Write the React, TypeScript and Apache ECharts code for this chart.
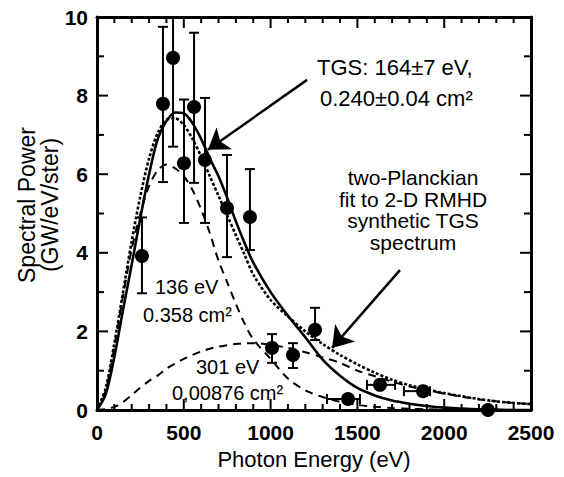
import React, { useEffect, useRef } from "react";
import * as echarts from "echarts";

const energy = [0, 50, 100, 150, 200, 250, 300, 350, 400, 450, 500, 550, 600, 650, 700, 750, 800, 850, 900, 1000, 1100, 1200, 1300, 1400, 1500, 1600, 1700, 1800, 1900, 2000, 2100, 2200, 2300, 2400, 2500];
// TGS single-Planckian fit (solid)
const tgsFit = [0, 0.4, 1.35, 2.55, 3.7, 4.9, 6.0, 6.9, 7.35, 7.57, 7.55, 7.3, 6.9, 6.4, 5.95, 5.4, 4.8, 4.25, 3.75, 3.0, 2.4, 1.85, 1.28, 0.87, 0.56, 0.37, 0.24, 0.16, 0.1, 0.06, 0.04, 0.02, 0.01, 0.0, 0.0];
// two-Planckian fit to synthetic spectrum (dotted)
const twoPlanckSum = [0, 0.55, 1.7, 3.0, 4.3, 5.45, 6.4, 7.05, 7.38, 7.42, 7.25, 6.9, 6.45, 5.95, 5.45, 4.95, 4.45, 3.95, 3.45, 2.8, 2.38, 2.0, 1.68, 1.4, 1.16, 0.95, 0.77, 0.63, 0.52, 0.43, 0.35, 0.28, 0.22, 0.18, 0.15];
// 136 eV component (dashed)
const comp136 = [0, 0.5, 1.6, 2.9, 4.1, 5.0, 5.7, 6.1, 6.25, 6.15, 5.95, 5.6, 5.1, 4.5, 3.8, 3.25, 2.7, 2.2, 1.8, 1.3, 0.8, 0.5, 0.33, 0.21, 0.13, 0.08, 0.05, 0.03, 0.02, 0.01, 0.0, 0.0, 0.0, 0.0, 0.0];
// 301 eV component (dashed)
const comp301 = [0, 0.02, 0.08, 0.2, 0.38, 0.57, 0.74, 0.88, 1.05, 1.18, 1.3, 1.4, 1.49, 1.56, 1.61, 1.65, 1.68, 1.7, 1.7, 1.66, 1.58, 1.47, 1.34, 1.2, 1.0, 0.86, 0.72, 0.6, 0.5, 0.42, 0.34, 0.27, 0.22, 0.18, 0.15];

// Measured points with vertical error bars
const vPointE = [259, 380, 438, 501, 559, 622, 749, 881, 1008, 1129, 1256];
const vPointP = [3.92, 7.79, 8.96, 6.28, 7.71, 6.36, 5.14, 4.91, 1.58, 1.4, 2.04];
const vErrLow = [2.97, 5.8, 6.7, 4.76, 5.78, 4.76, 3.89, 4.07, 1.2, 1.07, 1.78];
const vErrHigh = [4.9, 9.75, 10, 7.9, 9.6, 7.94, 6.49, 6.13, 1.93, 1.7, 2.6];
// Measured points with horizontal error bars
const hPointE = [1446, 1630, 1878];
const hPointP = [0.28, 0.64, 0.48];
const hErrLow = [1325, 1555, 1768];
const hErrHigh = [1515, 1717, 1918];
// Point without error bar
const lonePointE = [2252];
const lonePointP = [0.0];

// Axis ticks
const xTicks = [0, 500, 1000, 1500, 2000, 2500];
const xMinorTicks = [100, 200, 300, 400, 600, 700, 800, 900, 1100, 1200, 1300, 1400, 1600, 1700, 1800, 1900, 2100, 2200, 2300, 2400];
const yTicks = [0, 2, 4, 6, 8, 10];
const yMinorTicks = [1, 3, 5, 7, 9];

const FONT = "Liberation Sans, Arial, Helvetica, sans-serif";

export default function App() {
  const ref = useRef<HTMLDivElement>(null);

  useEffect(() => {
    if (!ref.current) return;
    const chart = echarts.init(ref.current, null, { renderer: "svg" });

    const pair = (ys: number[]) => energy.map((e, i) => [e, ys[i]]);
    const black = "#000";
    const xMin = xTicks[0];
    const xMax = xTicks[xTicks.length - 1];
    const yMin = yTicks[0];
    const yMax = yTicks[yTicks.length - 1];

    const axisCommon = (isX: boolean) => ({
      type: "value" as const,
      min: isX ? xMin : yMin,
      max: isX ? xMax : yMax,
      interval: isX ? xTicks[1] - xTicks[0] : yTicks[1] - yTicks[0],
      axisLine: { show: true, onZero: false, lineStyle: { color: black, width: 3 } },
      axisTick: { show: false },
      minorTick: { show: false },
      splitLine: { show: false },
      minorSplitLine: { show: false },
    });

    const lineSeries = (name: string, ys: number[], type: any, width: number) => ({
      name,
      type: "line",
      data: pair(ys),
      symbol: "none",
      smooth: 0.3,
      lineStyle: { color: black, width, type },
      z: 2,
    });

    const capStyle = { stroke: black, lineWidth: 2 };
    const tickLabel = { color: black, fontSize: 21, fontWeight: "bold", fontFamily: FONT };

    const texts: any[] = [
      {
        type: "text",
        x: 38,
        y: 205,
        rotation: Math.PI / 2,
        style: {
          text: "Spectral Power\n(GW/eV/ster)",
          fontSize: 23,
          lineHeight: 23,
          fontFamily: FONT,
          fill: black,
          align: "center",
          verticalAlign: "middle",
        },
      },
      {
        type: "text",
        x: 317,
        y: 67,
        style: { text: "TGS: 164±7 eV,", fontSize: 22, fontFamily: FONT, fill: black, align: "left", verticalAlign: "middle" },
      },
      {
        type: "text",
        x: 320,
        y: 98,
        style: { text: "0.240±0.04 cm²", fontSize: 22, fontFamily: FONT, fill: black, align: "left", verticalAlign: "middle" },
      },
      {
        type: "text",
        x: 413,
        y: 210,
        style: {
          text: "two-Planckian\nfit to 2-D RMHD\nsynthetic TGS\nspectrum",
          fontSize: 21,
          lineHeight: 21.5,
          fontFamily: FONT,
          fill: black,
          align: "center",
          verticalAlign: "middle",
        },
      },
      {
        type: "text",
        x: 155,
        y: 287,
        style: { text: "136 eV", fontSize: 20, fontFamily: FONT, fill: black, align: "left", verticalAlign: "middle" },
      },
      {
        type: "text",
        x: 143,
        y: 315,
        style: { text: "0.358 cm²", fontSize: 20, fontFamily: FONT, fill: black, align: "left", verticalAlign: "middle" },
      },
      {
        type: "text",
        x: 196,
        y: 367,
        style: { text: "301 eV", fontSize: 20, fontFamily: FONT, fill: black, align: "left", verticalAlign: "middle" },
      },
      {
        type: "text",
        x: 172,
        y: 393,
        style: { text: "0,00876 cm²", fontSize: 20, fontFamily: FONT, fill: black, align: "left", verticalAlign: "middle" },
      },
    ];

    const option: any = {
      animation: false,
      backgroundColor: "#fff",
      grid: { left: 97, right: 33, top: 17, bottom: 67, containLabel: false },
      xAxis: [
        {
          ...axisCommon(true),
          position: "bottom",
          axisLabel: { ...tickLabel, margin: 12, formatter: (v: number) => String(v) },
          name: "Photon Energy (eV)",
          nameLocation: "middle",
          nameGap: 38,
          nameTextStyle: { color: black, fontSize: 22, fontFamily: FONT },
        },
        {
          ...axisCommon(true),
          position: "top",
          axisLabel: { show: false },
        },
      ],
      yAxis: [
        {
          ...axisCommon(false),
          position: "left",
          axisLabel: { ...tickLabel, margin: 9, formatter: (v: number) => String(v) },
        },
        {
          ...axisCommon(false),
          position: "right",
          axisLabel: { show: false },
        },
      ],
      graphic: texts,
      series: [
        lineSeries("136 eV", comp136, [8, 6], 2),
        lineSeries("301 eV", comp301, [8, 6], 2),
        lineSeries("two-Planckian", twoPlanckSum, [3, 2], 2.6),
        {
          ...lineSeries("TGS fit", tgsFit, "solid", 2.6),
          markLine: {
            silent: true,
            symbol: ["none", "arrow"],
            symbolSize: 20,
            label: { show: false },
            lineStyle: { color: black, width: 2.5, type: "solid", opacity: 1 },
            itemStyle: { color: black },
            data: [
              [{ coord: [1210, 8.4] }, { coord: [639, 6.62] }],
              [{ coord: [1745, 3.56] }, { coord: [1354, 1.58] }],
            ],
          },
        },
        {
          name: "vErr",
          type: "custom",
          data: vPointE.map((e, i) => [e, vErrLow[i], vErrHigh[i]]),
          encode: { x: 0, y: [1, 2] },
          z: 3,
          renderItem: (_p: any, api: any) => {
            const x = api.value(0);
            const lo = api.coord([x, api.value(1)]);
            const hi = api.coord([x, api.value(2)]);
            const c = 5;
            return {
              type: "group",
              children: [
                { type: "line", shape: { x1: lo[0], y1: lo[1], x2: hi[0], y2: hi[1] }, style: capStyle },
                { type: "line", shape: { x1: lo[0] - c, y1: lo[1], x2: lo[0] + c, y2: lo[1] }, style: capStyle },
                { type: "line", shape: { x1: hi[0] - c, y1: hi[1], x2: hi[0] + c, y2: hi[1] }, style: capStyle },
              ],
            };
          },
        },
        {
          name: "hErr",
          type: "custom",
          data: hPointE.map((_e, i) => [hErrLow[i], hErrHigh[i], hPointP[i]]),
          encode: { x: [0, 1], y: 2 },
          z: 3,
          renderItem: (_p: any, api: any) => {
            const y = api.value(2);
            const lo = api.coord([api.value(0), y]);
            const hi = api.coord([api.value(1), y]);
            const c = 5;
            return {
              type: "group",
              children: [
                { type: "line", shape: { x1: lo[0], y1: lo[1], x2: hi[0], y2: hi[1] }, style: capStyle },
                { type: "line", shape: { x1: lo[0], y1: lo[1] - c, x2: lo[0], y2: lo[1] + c }, style: capStyle },
                { type: "line", shape: { x1: hi[0], y1: hi[1] - c, x2: hi[0], y2: hi[1] + c }, style: capStyle },
              ],
            };
          },
        },
        {
          name: "data",
          type: "scatter",
          clip: false,
          symbol: "circle",
          symbolSize: 14,
          itemStyle: { color: black, opacity: 1 },
          z: 4,
          data: [
            ...vPointE.map((e, i) => [e, vPointP[i]]),
            ...hPointE.map((e, i) => [e, hPointP[i]]),
            ...lonePointE.map((e, i) => [e, lonePointP[i]]),
          ],
        },
      ],
    };

    chart.setOption(option);

    // Inward tick marks on all four sides, placed through the axes' own scales
    const toPx = (v: number[]) => chart.convertToPixel({ xAxisIndex: 0, yAxisIndex: 0 }, v) as number[];
    const tickLines: any[] = [];
    const tickStyle = { stroke: black, lineWidth: 2 };
    const addX = (vals: number[], len: number) => {
      vals.forEach((v) => {
        const b = toPx([v, yMin]);
        const t = toPx([v, yMax]);
        tickLines.push({ type: "line", silent: true, z: 100, shape: { x1: b[0], y1: b[1], x2: b[0], y2: b[1] - len }, style: tickStyle });
        tickLines.push({ type: "line", silent: true, z: 100, shape: { x1: t[0], y1: t[1], x2: t[0], y2: t[1] + len }, style: tickStyle });
      });
    };
    const addY = (vals: number[], len: number) => {
      vals.forEach((v) => {
        const l = toPx([xMin, v]);
        const r = toPx([xMax, v]);
        tickLines.push({ type: "line", silent: true, z: 100, shape: { x1: l[0], y1: l[1], x2: l[0] + len, y2: l[1] }, style: tickStyle });
        tickLines.push({ type: "line", silent: true, z: 100, shape: { x1: r[0], y1: r[1], x2: r[0] - len, y2: r[1] }, style: tickStyle });
      });
    };
    addX(xTicks, 11);
    addX(xMinorTicks, 6);
    addY(yTicks, 11);
    addY(yMinorTicks, 7);
    chart.setOption({ graphic: [...texts, ...tickLines] });

    return () => chart.dispose();
  }, []);

  return <div ref={ref} style={{ width: 564, height: 477, position: "absolute", left: 0, top: 0, background: "#fff" }} />;
}
